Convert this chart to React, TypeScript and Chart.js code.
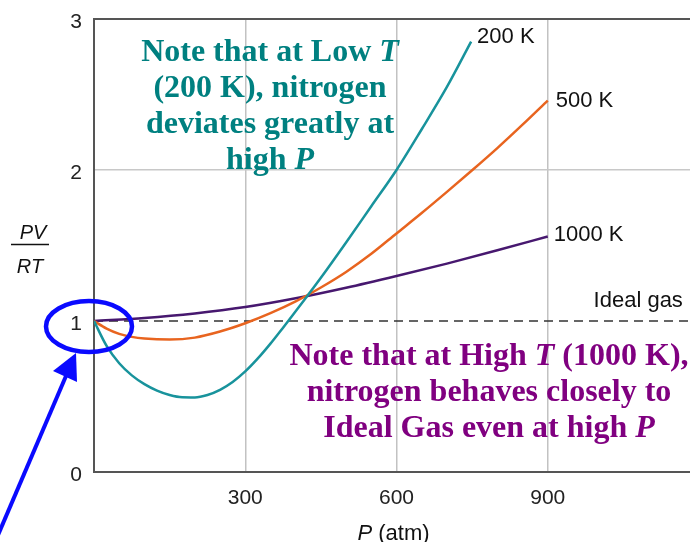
import React, { useEffect, useRef } from 'react';
import { Chart, registerables } from 'chart.js';

Chart.register(...registerables);

// ---- data ----
const pressure200 = [0, 25, 50, 75, 100, 125, 150, 175, 200, 225, 250, 275, 300, 325, 350, 375, 400, 425, 450, 500, 550, 600, 650, 700, 748];
const z200 = [1.0, 0.835, 0.72, 0.64, 0.582, 0.539, 0.51, 0.495, 0.494, 0.51, 0.544, 0.596, 0.666, 0.752, 0.85, 0.956, 1.064, 1.174, 1.286, 1.52, 1.76, 2.0, 2.27, 2.55, 2.85];
const pressure500 = [0, 25, 50, 75, 100, 150, 200, 250, 300, 350, 400, 450, 500, 550, 600, 650, 700, 750, 800, 850, 900];
const z500 = [1.0, 0.95, 0.915, 0.895, 0.884, 0.877, 0.89, 0.93, 0.985, 1.052, 1.13, 1.222, 1.325, 1.445, 1.58, 1.715, 1.855, 1.998, 2.145, 2.3, 2.46];
const pressure1000 = [0, 100, 200, 300, 400, 500, 600, 700, 800, 900];
const z1000 = [1.0, 1.02, 1.05, 1.092, 1.15, 1.22, 1.298, 1.38, 1.468, 1.56];
const idealPressure = [0, 1200];
const idealZ = [1, 1];

const seriesLabels = ['200 K', '500 K', '1000 K'];
const idealLabel = 'Ideal gas';
const xTickValues = [300, 600, 900];
const yTickValues = [0, 1, 2, 3];
const xTitle = ['P', ' (atm)'];
const yTitleTop = 'PV';
const yTitleBottom = 'RT';

type Seg = [string, boolean];
const lowTNote: Seg[][] = [
  [['Note that at Low ', false], ['T', true]],
  [['(200 K), nitrogen', false]],
  [['deviates greatly at', false]],
  [['high ', false], ['P', true]],
];
const highTNote: Seg[][] = [
  [['Note that at High ', false], ['T', true], [' (1000 K),', false]],
  [['nitrogen behaves closely to', false]],
  [['Ideal Gas even at high ', false], ['P', true]],
];

const TEAL = '#18939c';
const ORANGE = '#e8641f';
const PURPLE = '#47186f';
const SANS = '"Liberation Sans", Arial, Helvetica, sans-serif';
const SERIF = '"Liberation Serif", "Times New Roman", serif';

function toXY(xs: number[], ys: number[]) {
  return xs.map((x, i) => ({ x, y: ys[i] }));
}

function drawRich(ctx: CanvasRenderingContext2D, segs: Seg[], cx: number, baseline: number, size: number, color: string) {
  const fontFor = (it: boolean) => `${it ? 'italic ' : ''}bold ${size}px ${SERIF}`;
  let total = 0;
  const widths = segs.map(([t, it]) => {
    ctx.font = fontFor(it);
    const w = ctx.measureText(t).width;
    total += w;
    return w;
  });
  let x = cx - total / 2;
  ctx.fillStyle = color;
  ctx.textAlign = 'left';
  ctx.textBaseline = 'alphabetic';
  segs.forEach(([t, it], i) => {
    ctx.font = fontFor(it);
    ctx.fillText(t, x, baseline);
    x += widths[i];
  });
}

const overlayPlugin = {
  id: 'overlay',
  afterDraw(chart: any) {
    const ctx: CanvasRenderingContext2D = chart.ctx;
    const xs = chart.scales.x;
    const ys = chart.scales.y;
    ctx.save();

    // series end labels
    ctx.font = `22px ${SANS}`;
    ctx.fillStyle = '#111';
    ctx.textAlign = 'left';
    ctx.textBaseline = 'middle';
    const offsets = [[6, -5], [8, 0], [6, -1.5]];
    [0, 1, 2].forEach((di) => {
      const meta = chart.getDatasetMeta(di);
      const last = meta.data[meta.data.length - 1];
      ctx.fillText(seriesLabels[di], last.x + offsets[di][0], last.y + offsets[di][1]);
    });

    // ideal gas label
    ctx.textAlign = 'right';
    ctx.textBaseline = 'alphabetic';
    ctx.fillText(idealLabel, xs.getPixelForValue(1168), ys.getPixelForValue(1) - 14);

    // x title
    ctx.textAlign = 'left';
    ctx.font = `italic 22px ${SANS}`;
    const wP = ctx.measureText(xTitle[0]).width;
    ctx.font = `22px ${SANS}`;
    const wR = ctx.measureText(xTitle[1]).width;
    const cx = xs.getPixelForValue(600) - 3;
    const tx = cx - (wP + wR) / 2;
    ctx.font = `italic 22px ${SANS}`;
    ctx.fillText(xTitle[0], tx, 540);
    ctx.font = `22px ${SANS}`;
    ctx.fillText(xTitle[1], tx + wP, 540);

    // y title fraction
    ctx.font = `italic 20px ${SANS}`;
    ctx.textAlign = 'center';
    ctx.fillText(yTitleTop, 33, 239);
    ctx.fillText(yTitleBottom, 30, 273);
    ctx.strokeStyle = '#111';
    ctx.lineWidth = 1.5;
    ctx.beginPath();
    ctx.moveTo(11, 244.5);
    ctx.lineTo(49, 244.5);
    ctx.stroke();

    // annotations
    lowTNote.forEach((segs, i) => drawRich(ctx, segs, 270, 61 + i * 36, 32, '#008080'));
    highTNote.forEach((segs, i) => drawRich(ctx, segs, 489, 365 + i * 36, 32, '#800080'));

    // blue ellipse around 1
    ctx.strokeStyle = '#0a0aff';
    ctx.lineWidth = 4.5;
    ctx.beginPath();
    ctx.ellipse(89, 326.5, 43, 25.5, 0, 0, Math.PI * 2);
    ctx.stroke();

    // arrow
    ctx.lineWidth = 4;
    ctx.beginPath();
    ctx.moveTo(-2, 535);
    ctx.lineTo(66, 376);
    ctx.stroke();
    ctx.fillStyle = '#0a0aff';
    ctx.beginPath();
    ctx.moveTo(76, 353);
    ctx.lineTo(53, 371);
    ctx.lineTo(77, 382);
    ctx.closePath();
    ctx.fill();

    ctx.restore();
  },
};

export default function App() {
  const ref = useRef<HTMLCanvasElement>(null);
  useEffect(() => {
    if (!ref.current) return;
    const lineBase = { pointRadius: 0, borderWidth: 2.5, fill: false, cubicInterpolationMode: 'monotone' as const };
    const chart = new Chart(ref.current, {
      type: 'line',
      data: {
        datasets: [
          { ...lineBase, label: seriesLabels[0], data: toXY(pressure200, z200), borderColor: TEAL },
          { ...lineBase, label: seriesLabels[1], data: toXY(pressure500, z500), borderColor: ORANGE },
          { ...lineBase, label: seriesLabels[2], data: toXY(pressure1000, z1000), borderColor: PURPLE },
          { label: idealLabel, data: toXY(idealPressure, idealZ), borderColor: '#333', borderWidth: 1.5, borderDash: [9, 6], pointRadius: 0, fill: false },
        ],
      },
      options: {
        responsive: false,
        animation: false,
        devicePixelRatio: 1,
        layout: { padding: { top: 19, right: 11, left: 0, bottom: 0 } },
        plugins: { legend: { display: false }, tooltip: { enabled: false } },
        scales: {
          x: {
            type: 'linear',
            min: 0,
            max: 1200,
            afterBuildTicks: (s: any) => {
              s.ticks = [0, ...xTickValues, 1200].map((v) => ({ value: v }));
            },
            afterFit: (s: any) => {
              s.height = 70;
              s.paddingLeft = 0;
              s.paddingRight = 0;
            },
            ticks: {
              autoSkip: false,
              maxRotation: 0,
              padding: 14,
              color: '#222',
              font: { family: SANS, size: 21 },
              callback: (v: any) => (xTickValues.includes(Number(v)) ? String(v) : ''),
            },
            grid: {
              drawTicks: false,
              lineWidth: 1.5,
              color: (c: any) => (c.tick && xTickValues.includes(c.tick.value) ? '#c2c2c2' : 'rgba(0,0,0,0)'),
            },
            border: { color: '#555', width: 2 },
          },
          y: {
            type: 'linear',
            min: 0,
            max: 3,
            afterBuildTicks: (s: any) => {
              s.ticks = yTickValues.map((v) => ({ value: v }));
            },
            afterFit: (s: any) => {
              s.width = 94;
              s.paddingTop = 0;
              s.paddingBottom = 0;
            },
            ticks: {
              padding: 12,
              labelOffset: 3,
              color: '#222',
              font: { family: SANS, size: 21 },
              callback: (v: any) => String(v),
            },
            grid: {
              drawTicks: false,
              lineWidth: (c: any) => (c.tick && c.tick.value === 3 ? 2 : 1.5),
              color: (c: any) => {
                const v = c.tick ? c.tick.value : -1;
                if (v === 3) return '#555';
                if (v === 2) return '#c8c8c8';
                return 'rgba(0,0,0,0)';
              },
            },
            border: { color: '#555', width: 2 },
          },
        },
      },
      plugins: [overlayPlugin],
    } as any);
    return () => chart.destroy();
  }, []);

  return (
    <div style={{ position: 'fixed', left: 0, top: 0, width: 690, height: 542, overflow: 'hidden', background: '#fff' }}>
      <canvas ref={ref} width={710} height={542} style={{ display: 'block' }} />
    </div>
  );
}
